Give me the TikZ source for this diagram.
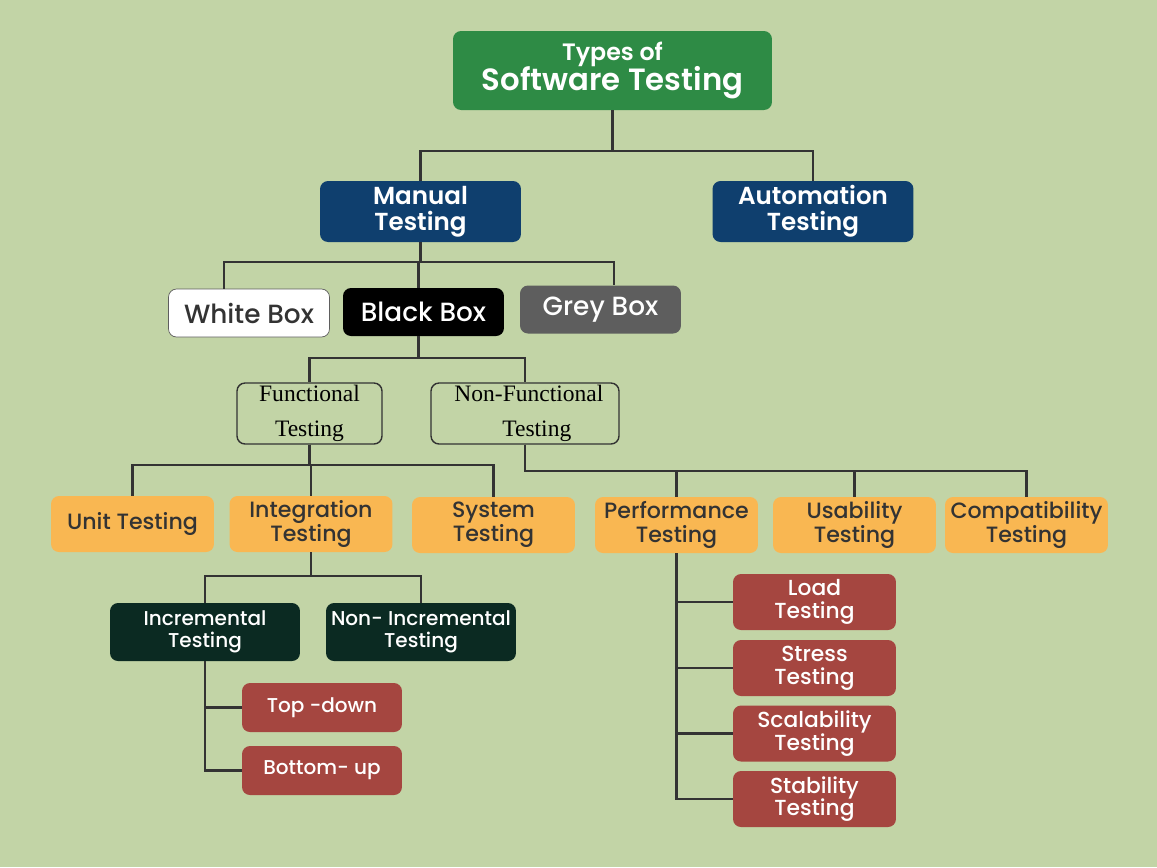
\documentclass[tikz,border=0pt]{standalone}
\usepackage{fontspec}
\setmainfont{Poppins}[UprightFont=* Medium, BoldFont=* SemiBold]
\newfontfamily\serifbox{Liberation Serif}
\usepackage{tikz}
\usetikzlibrary{positioning}
\definecolor{bgcol}{HTML}{C2D4A6}
\definecolor{titlecol}{HTML}{2E8B45}
\definecolor{navycol}{HTML}{0F3F6E}
\definecolor{greycol}{HTML}{5E5E5E}
\definecolor{orangecol}{HTML}{F9B752}
\definecolor{redcol}{HTML}{A54640}
\definecolor{darkcol}{HTML}{0B2A22}
\definecolor{linecol}{HTML}{333333}
\tikzstyle{base} = [rectangle, rounded corners=0.16cm, inner sep=0pt, align=center]
\tikzstyle{titlebox} = [base, minimum width=6.38cm, minimum height=1.58cm, fill=titlecol, text=white, font=\bfseries]
\tikzstyle{mainbox} = [base, minimum width=4.02cm, minimum height=1.22cm, fill=navycol, text=white, font=\bfseries\fontsize{14}{15}\selectfont]
\tikzstyle{boxkind} = [base, minimum width=3.22cm, minimum height=0.96cm, font=\fontsize{15}{17}\selectfont]
\tikzstyle{outline} = [base, minimum height=1.22cm, draw=linecol, thick, font=\serifbox\fontsize{13.4}{20}\selectfont]
\tikzstyle{level} = [base, minimum width=3.26cm, minimum height=1.12cm, fill=orangecol, text=linecol, font=\fontsize{12.6}{13.5}\selectfont]
\tikzstyle{sublevel} = [base, minimum width=3.8cm, minimum height=1.16cm, fill=darkcol, text=white, font=\fontsize{11.4}{12.5}\selectfont]
\tikzstyle{leaf} = [base, minimum width=3.26cm, minimum height=1.12cm, fill=redcol, text=white, font=\fontsize{12.4}{13}\selectfont]
\tikzstyle{link} = [draw=linecol, line width=1.2pt]
\begin{document}
\begin{tikzpicture}[x=0.02cm, y=-0.02cm]
        \fill[bgcol] (0,0) rectangle (1157,867);
        \useasboundingbox (0,0) rectangle (1157,867);

        \node[titlebox]                                          (title)     at (612.5,70.5) {{\fontsize{13.5}{15}\selectfont Types of}\\[-1pt]{\fontsize{17.5}{19}\selectfont Software Testing}};
        \node[mainbox]                                           (manual)    at (420.5,211.5) {Manual\\Testing};
        \node[mainbox]                                           (auto)      at (813,211.5)   {Automation\\Testing};

        \node[boxkind, fill=white, draw=greycol, text=linecol]   (white)     at (249,313)     {White Box};
        \node[boxkind, fill=black, text=white]                   (black)     at (423.5,312)   {Black Box};
        \node[boxkind, fill=greycol, text=white]                 (grey)      at (600.5,309.5) {Grey Box};

        \node[outline, minimum width=2.9cm]                      (func)      at (309.5,413.5) {Functional\\Testing};
        \node[outline, minimum width=3.76cm]                     (nonfunc)   at (525,413.5)   {\,\,Non-Functional\\\quad Testing};

        \node[level]                                             (unit)      at (132.5,524)   {Unit Testing};
        \node[level]                                             (integ)     at (311,524)     {Integration\\Testing};
        \node[level]                                             (system)    at (493.5,525)   {System\\Testing};
        \node[level]                                             (perf)      at (676.5,525)   {Performance\\Testing};
        \node[level]                                             (usab)      at (854.5,525)   {Usability\\Testing};
        \node[level]                                             (compat)    at (1026.5,525)  {Compatibility\\Testing};

        \node[sublevel]                                          (incr)      at (205,632)     {Incremental\\Testing};
        \node[sublevel]                                          (nonincr)   at (421,632)     {Non- Incremental\\Testing};

        \node[leaf, minimum width=3.2cm, minimum height=0.98cm, font=\fontsize{11.4}{13}\selectfont]  (topdown)   at (322,707.5)   {Top -down};
        \node[leaf, minimum width=3.2cm, minimum height=0.98cm, font=\fontsize{11.4}{13}\selectfont]  (bottomup)  at (322,770.5)   {Bottom- up};

        \node[leaf]                                              (load)      at (814.5,602)   {Load\\Testing};
        \node[leaf]                                              (stress)    at (814.5,668)   {Stress\\Testing};
        \node[leaf]                                              (scal)      at (814.5,733.5) {Scalability\\Testing};
        \node[leaf]                                              (stab)      at (814.5,799)   {Stability\\Testing};

        \draw[link] (title.south)   -- ++(0,41) -| (manual.north);
        \draw[link] (title.south)   -- ++(0,41) -| (auto.north);

        \draw[link] (manual.south)  -- ++(0,20) -| ([xshift=-0.5cm]white.north);
        \draw[link] (manual.south)  -- ++(0,20) -| ([xshift=-0.1cm]black.north);
        \draw[link] (manual.south)  -- ++(0,20) -| ([xshift=0.27cm]grey.north);

        \draw[link] ([xshift=-0.1cm]black.south) -- ++(0,22) -| (func.north);
        \draw[link] ([xshift=-0.1cm]black.south) -- ++(0,22) -| (nonfunc.north);

        \draw[link] (func.south)    -- ++(0,20) -| (unit.north);
        \draw[link] (func.south)    -- ++(0,20) -| (integ.north);
        \draw[link] (func.south)    -- ++(0,20) -| (system.north);

        \draw[link] (nonfunc.south) -- ++(0,26) -| (perf.north);
        \draw[link] (nonfunc.south) -- ++(0,26) -| (usab.north);
        \draw[link] (nonfunc.south) -- ++(0,26) -| (compat.north);

        \draw[link] (integ.south)   -- ++(0,24) -| (incr.north);
        \draw[link] (integ.south)   -- ++(0,24) -| (nonincr.north);

        \draw[link] (incr.south)    |- (topdown.west);
        \draw[link] (incr.south)    |- (bottomup.west);

        \draw[link] (perf.south)    |- (load.west);
        \draw[link] (perf.south)    |- (stress.west);
        \draw[link] (perf.south)    |- (scal.west);
        \draw[link] (perf.south)    |- (stab.west);
    \end{tikzpicture}
\end{document}
